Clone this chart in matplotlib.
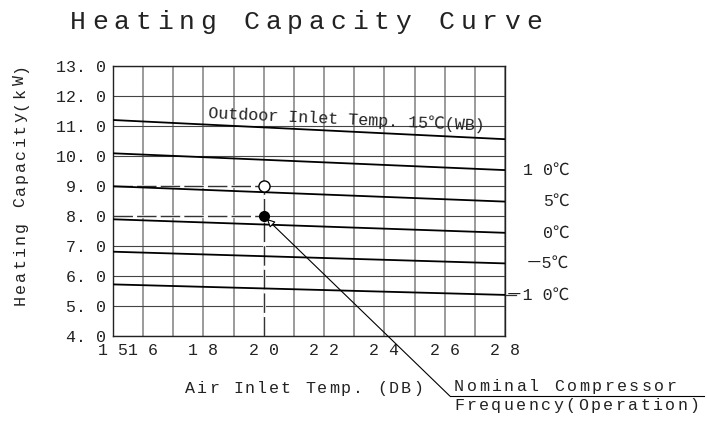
import matplotlib
matplotlib.use("Agg")
import matplotlib.pyplot as plt
from matplotlib.transforms import IdentityTransform

# outdoor inlet temp (WB) curves, capacity read at air inlet 15 and 28
outdoor_temps = [15, 10, 5, 0, -5, -10]
air_inlet = [15, 28]
cap_at_15 = [11.20, 10.09, 8.99, 7.89, 6.81, 5.72]
cap_at_28 = [10.56, 9.53, 8.48, 7.44, 6.42, 5.37]
right_labels = ["", "1 0℃", "5℃", "0℃", "－5℃", "－1 0℃"]

# nominal points
nominal_x = 20
nominal_open = 9.0
nominal_filled = 8.0

x_ticks = list(range(15, 29))
x_tick_labels = ["1 5", "1 6", "", "1 8", "", "2 0", "", "2 2", "", "2 4", "", "2 6", "", "2 8"]
y_ticks = [4, 5, 6, 7, 8, 9, 10, 11, 12, 13]
y_tick_labels = ["4. 0", "5. 0", "6. 0", "7. 0", "8. 0", "9. 0", "10. 0", "11. 0", "12. 0", "13. 0"]

FONT = ["Liberation Mono", "DejaVu Sans Mono", "Noto Sans CJK SC"]
plt.rcParams["font.family"] = FONT

W, H = 707, 428
fig = plt.figure(figsize=(W / 100, H / 100), dpi=100)
ax = fig.add_axes([113 / W, 1 - 336 / H, 392 / W, 270 / H])


def spread(x0, y0, s, pitch, size, vertical=False):
    # plotter style lettering: one char per fixed pitch, pixel coords from top-left
    for i, ch in enumerate(s):
        if vertical:
            fig.text(x0, H - (y0 - i * pitch), ch, rotation=90, ha="center", va="center",
                     fontsize=size, color="#222", transform=IdentityTransform())
        else:
            fig.text(x0 + i * pitch, H - y0, ch, ha="center", va="baseline",
                     fontsize=size, color="#222", transform=IdentityTransform())


ax.set_xlim(15, 28)
ax.set_ylim(4, 13)
ax.set_xticks(x_ticks)
ax.set_xticklabels(x_tick_labels, fontsize=12, color="#222")
ax.set_yticks(y_ticks)
ax.set_yticklabels(y_tick_labels, fontsize=12, color="#222")
ax.tick_params(length=0, pad=5)
ax.set_axisbelow(True)
ax.xaxis.grid(True, color="#8a8a8a", lw=1.2)
ax.yaxis.grid(True, color="#444", lw=0.8)
for sp in ax.spines.values():
    sp.set_color("#222")
    sp.set_linewidth(1.0)

for t, a, b, lab in zip(outdoor_temps, cap_at_15, cap_at_28, right_labels):
    ax.plot(air_inlet, [a, b], color="black", lw=1.3, zorder=3)
    if lab:
        ax.text(30.13, b, lab, ha="right", va="center", fontsize=12, color="#222", clip_on=False)

# leader for the -10 label
ax.plot([28, 28.35], [cap_at_28[-1], cap_at_28[-1]], color="#333", lw=0.9, clip_on=False)

ax.text(18.17, 11.27, "Outdoor Inlet Temp. 15℃(WB)", rotation=-2.6, rotation_mode="anchor",
        ha="left", va="baseline", fontsize=12, color="#222", zorder=4)

# dashed reading lines
for yv in (nominal_open, nominal_filled):
    ax.plot([15, nominal_x], [yv, yv], color="white", lw=2, zorder=2)
    ax.plot([15, nominal_x], [yv, yv], color="#333", lw=1, dashes=(14, 3), zorder=2.5)
ax.plot([nominal_x, nominal_x], [4, nominal_open], color="white", lw=2, zorder=2)
ax.plot([nominal_x, nominal_x], [4, nominal_open], color="#333", lw=1, dashes=(14, 3), zorder=2.5)

ax.plot(nominal_x, nominal_open, "o", ms=8, mfc="white", mec="black", mew=1, zorder=5)
ax.plot(nominal_x, nominal_filled, "o", ms=7, color="black", zorder=5)

# callout
ax.annotate("", xy=(nominal_x, nominal_filled), xytext=(26.17, 2.0),
            arrowprops=dict(arrowstyle="-|>", lw=0.8, fc="white", ec="black",
                            mutation_scale=12, shrinkA=0, shrinkB=3),
            annotation_clip=False)
ax.plot([26.17, 34.6], [2.0, 2.0], color="black", lw=0.8, clip_on=False)

spread(78, 29, "Heating Capacity Curve", 21.7, 19)
spread(20, 300, "Heating Capacity(kW)", 12.2, 12, vertical=True)
spread(190, 393, "Air Inlet Temp. (DB)", 12.0, 12)
spread(459, 391, "Nominal Compressor", 12.5, 12)
spread(459, 410, "Frequency(Operation)", 12.4, 12)

fig.savefig("out.png", dpi=100)
